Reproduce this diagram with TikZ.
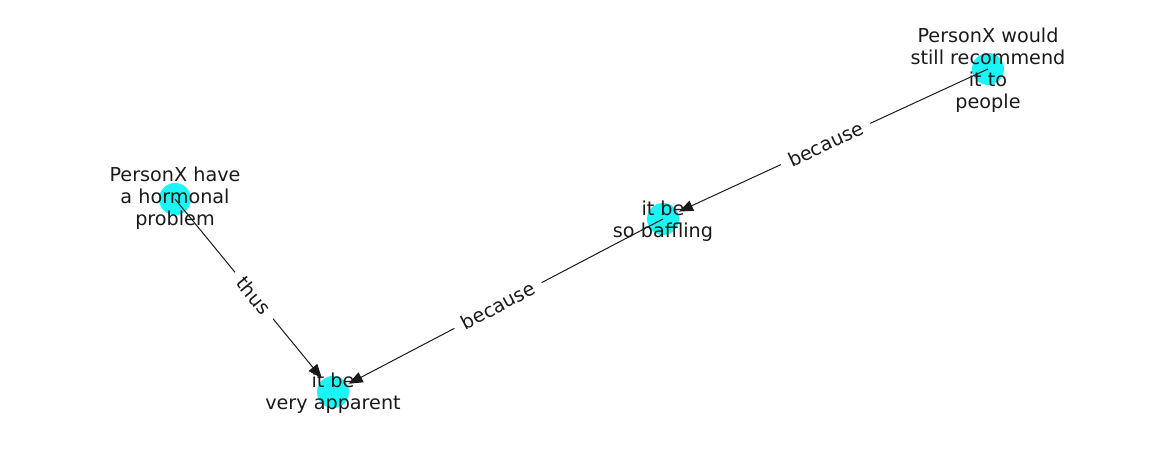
\documentclass[tikz,border=0pt]{standalone}
\usepackage{fontspec}
\setmainfont{DejaVu Sans}
\usetikzlibrary{arrows.meta}
\definecolor{txt}{HTML}{1A1A1A}
\definecolor{nodecyan}{HTML}{1AF5F5}
\tikzset{
  dot/.style={circle, fill=nodecyan, draw=none, minimum size=32pt, inner sep=0pt},
  lbl/.style={align=center, text=txt, font=\fontsize{19.2}{22}\selectfont, inner sep=0pt},
  edge/.style={draw=txt, line width=1pt, -{Triangle[length=14pt,width=11pt]}, shorten >=1.5pt},
  elbl/.style={fill=white, text=txt, font=\fontsize{19.2}{22}\selectfont, inner xsep=9pt, inner ysep=5pt, sloped}
}
\begin{document}
\begin{tikzpicture}[x=1pt,y=1pt]
\useasboundingbox (0,0) rectangle (1162,462);
\node[dot] (Ac) at (175,263) {};
\node[dot] (Bc) at (333,70) {};
\node[dot] (Cc) at (663,243) {};
\node[dot] (Dc) at (988,393) {};
\draw[edge] (Ac.center) -- (Bc);
\draw[edge] (Cc.center) -- (Bc);
\draw[edge] (Dc.center) -- (Cc);
\path (Ac.center) -- (Bc.center) node[elbl, midway] (l1) {thus};
\path (Cc.center) -- (Bc.center) node[elbl, midway, allow upside down=false] (l2) {because};
\path (Dc.center) -- (Cc.center) node[elbl, midway] (l3) {because};
\node[lbl] (A) at (175,264) {PersonX have\\a hormonal\\problem};
\node[lbl] (B) at (333,69) {it be\\very apparent};
\node[lbl] (C) at (663,241) {it be\\so baffling};
\node[lbl] (D) at (988,392) {PersonX would\\still recommend\\it to\\people};
\end{tikzpicture}
\end{document}
